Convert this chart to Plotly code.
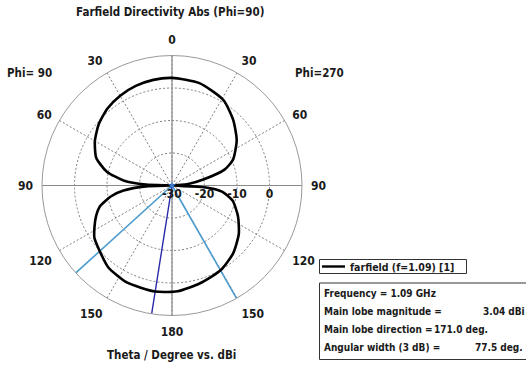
import plotly.graph_objects as go

# ---------------- data ----------------
theta_deg = [0, 10, 20, 30, 40, 50, 60, 70, 78, 84, 88, 90,
             92, 96, 100, 106, 112, 118, 124, 132, 142, 155, 171, 183,
             196, 210, 222, 234, 245, 256, 263, 267, 270,
             275, 281, 287, 293, 305, 317, 329, 345, 360]
directivity_dbi = [3.1, 3.0, 2.6, 1.9, 0.9, -0.6, -2.6, -5.2, -9.5, -15, -22, -30,
                   -22, -15, -11, -7, -4.8, -3.0, -1.2, 0.0, 1.9, 2.9, 3.04, 2.6,
                   1.3, 0.04, -1.9, -4.6, -7.6, -10.8, -14.5, -20, -30,
                   -25, -20, -13, -9.6, -5.7, -2.4, 0.7, 2.6, 3.1]

angle_tickvals = [0, 30, 60, 90, 120, 150, 180, 210, 240, 270, 300, 330]
angle_ticktext = ["0", "30", "60", "90", "120", "150", "180", "150", "120", "90", "60", "30"]
radial_tickvals = [-30, -20, -10, 0]
radial_ticktext = ["-30", "-20", "-10", "0"]
radial_range = [-30, 10]

main_lobe_direction = [171.0]
beamwidth_edges = [132.25, 209.75]

trace_name = "farfield (f=1.09) [1]"
info_labels = ["Frequency = 1.09 GHz", "Main lobe magnitude =", "Main lobe direction =",
               "Angular width (3 dB) ="]
info_values = ["", "3.04 dBi", "171.0 deg.", "77.5 deg."]

# ---------------- figure ----------------
W, H = 526, 368
FONT = "DejaVu Sans Condensed, DejaVu Sans, sans-serif"
TXT = "#1a1a1a"


def px(x):
    return x / W


def py(y):
    return 1 - y / H


fig = go.Figure()

# solid diameters
for a in (0, 90):
    fig.add_trace(go.Scatterpolar(theta=[a, a, a + 180], r=[radial_range[1], radial_range[0], radial_range[1]],
                                  mode="lines", line=dict(color="#8a8a8a", width=1.2),
                                  showlegend=False, hoverinfo="skip"))

# beamwidth lines
for a in beamwidth_edges:
    fig.add_trace(go.Scatterpolar(theta=[a, a], r=radial_range, mode="lines",
                                  line=dict(color="#4a9bd0", width=1.6),
                                  showlegend=False, hoverinfo="skip"))
for a in main_lobe_direction:
    fig.add_trace(go.Scatterpolar(theta=[a, a], r=radial_range, mode="lines",
                                  line=dict(color="#2a2aa8", width=1.4),
                                  showlegend=False, hoverinfo="skip"))

# pattern
fig.add_trace(go.Scatterpolar(theta=theta_deg, r=directivity_dbi, mode="lines",
                              line=dict(color="black", width=2.6, shape="spline", smoothing=0.6),
                              name=trace_name, showlegend=False))

# centre marker
fig.add_trace(go.Scatterpolar(theta=[0], r=[radial_range[0]], mode="markers",
                              marker=dict(symbol="star", size=6, color="#3d7fd6"),
                              showlegend=False, hoverinfo="skip"))

fig.update_layout(
    width=W, height=H, autosize=False,
    margin=dict(l=0, r=0, t=0, b=0),
    paper_bgcolor="white",
    font=dict(family=FONT, color=TXT, size=12),
    polar=dict(
        domain=dict(x=[px(42), px(302)], y=[py(315.5), py(55.5)]),
        bgcolor="white",
        angularaxis=dict(
            rotation=90, direction="counterclockwise",
            tickmode="array", tickvals=angle_tickvals, ticktext=angle_ticktext,
            showline=True, linecolor="#9a9a9a", linewidth=1,
            showgrid=True, gridcolor="#808080", griddash="2px,2px", gridwidth=1,
            ticks="outside", ticklen=6, tickcolor="rgba(0,0,0,0)",
            tickfont=dict(family=FONT, size=12, color=TXT, weight="bold"),
        ),
        radialaxis=dict(
            range=radial_range, angle=0, side="clockwise",
            tickmode="array", tickvals=radial_tickvals, ticktext=radial_ticktext,
            showline=False, showgrid=True, gridcolor="#808080", griddash="2px,2px", gridwidth=1,
            ticks="", tickfont=dict(family=FONT, size=12, color=TXT, weight="bold"),
        ),
    ),
)

annotations = [
    dict(text="<b>Farfield Directivity Abs (Phi=90)</b>", x=px(170), y=py(12), size=11.5, xa="center"),
    dict(text="<b>Phi= 90</b>", x=px(5), y=py(73), size=11.5, xa="left"),
    dict(text="<b>Phi=270</b>", x=px(293), y=py(73), size=11.5, xa="left"),
    dict(text="<b>Theta / Degree vs. dBi</b>", x=px(171), y=py(355), size=11.5, xa="center"),
    dict(text="<b>" + trace_name + "</b>", x=px(348), y=py(266.5), size=10.5, xa="left"),
]
info_y = [293, 311.5, 329.5, 347.5]
value_x = [None, 527, 490, 525]
for lab, val, yy, vx in zip(info_labels, info_values, info_y, value_x):
    annotations.append(dict(text="<b>" + lab + "</b>", x=px(321.5), y=py(yy), size=10, xa="left"))
    if val:
        annotations.append(dict(text="<b>" + val + "</b>", x=px(vx), y=py(yy), size=10, xa="right"))

fig.update_layout(annotations=[
    dict(text=a["text"], x=a["x"], y=a["y"], xref="paper", yref="paper", showarrow=False,
         xanchor=a["xa"], yanchor="middle", font=dict(family=FONT, size=a["size"], color=TXT))
    for a in annotations
])

fig.update_layout(shapes=[
    dict(type="rect", xref="paper", yref="paper", x0=px(319.5), x1=px(466.5), y0=py(273.5), y1=py(259.5),
         line=dict(color="#333", width=1)),
    dict(type="line", xref="paper", yref="paper", x0=px(322), x1=px(345), y0=py(266.5), y1=py(266.5),
         line=dict(color="black", width=2.4)),
    dict(type="rect", xref="paper", yref="paper", x0=px(319.5), x1=px(540), y0=py(359.5), y1=py(283),
         line=dict(color="#333", width=1)),
])

fig.write_html("out.html", config={"displayModeBar": False},
               post_script="document.body.style.margin='0';document.body.style.overflow='hidden';")
